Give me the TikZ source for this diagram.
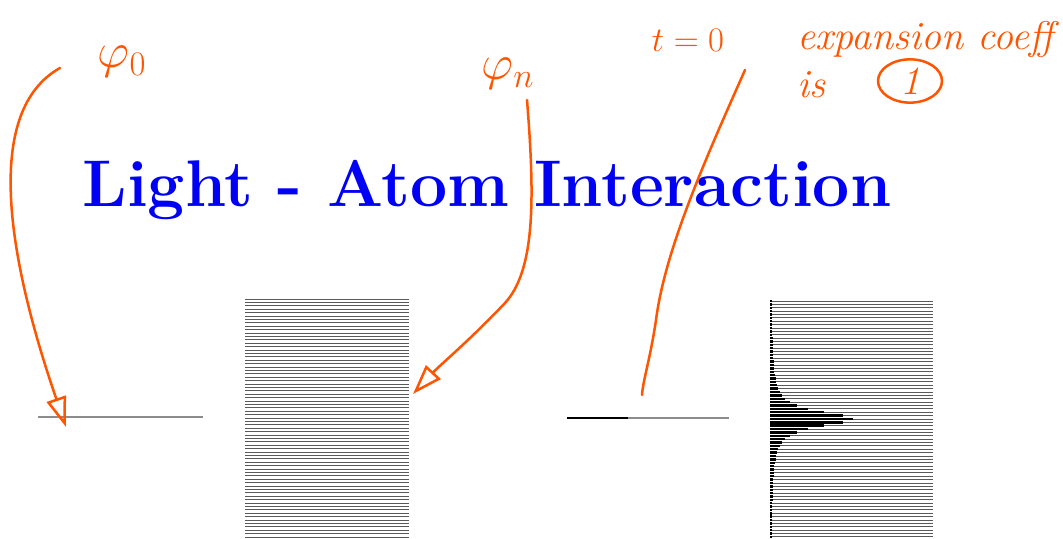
\documentclass[tikz,border=0pt]{standalone}
\usepackage{tikz}
\usetikzlibrary{arrows.meta,positioning,shapes.geometric}
\definecolor{ink}{RGB}{255,85,0}
\definecolor{titleblue}{RGB}{0,0,245}

\begin{document}
\begin{tikzpicture}[x=0.5pt, y=-0.5pt,
    level/.style={black!45, line width=0.65pt},
    band/.style={black!65, line width=0.45pt},
    weight/.style={black, line width=1.2pt},
    note/.style={text=ink, font=\fontsize{20}{22}\selectfont\itshape, inner sep=1pt},
    pen/.style={ink, line width=1.25pt, line cap=round},
    penarr/.style={pen, -{Triangle[open, length=15pt, width=10pt, line width=1.25pt]}}
]
\useasboundingbox (0,0) rectangle (1063,539);

\node[anchor=base, text=titleblue, font=\fontsize{33}{40}\selectfont\bfseries] (title)
    at (487,207) {Light - Atom Interaction};

% before: ground state and continuum
\draw[level] (38,417) -- (203,417);
\foreach \k in {0,...,70}
  \draw[band] (245,{299+3.4*\k}) -- (409,{299+3.4*\k});

% after: weights on the continuum
\draw[level] (567,418) -- (729,418);
\draw[weight] (567,418) -- (628,418);
\foreach \k in {0,...,70}{
  \draw[band] (770,{301+3.37*\k}) -- (933,{301+3.37*\k});
  \draw[weight] (770,{301+3.37*\k}) -- ++({1.5+81/(1+((\k-35)/2.73)^2)},0);
}

% annotations
\node[note, font=\fontsize{25}{28}\selectfont] (phi0) at (122,62) {$\varphi_0$};
\node[note, font=\fontsize{25}{28}\selectfont] (phin) at (508,74) {$\varphi_n$};
\node[note, font=\fontsize{19}{22}\selectfont] (tzero) at (688,40) {$t=0$};
\node[note, anchor=west] (coeff) at (795,40) {expansion coeff};
\node[note, anchor=west] (is) at (795,85) {is};
\node[note, draw=ink, ellipse, line width=1.25pt, minimum width=32pt,
      minimum height=19pt] (one) at (910,81) {1};

\coordinate (s0) at (60,68);
\coordinate (e0) at (66,427);
\coordinate (sn) at (527,100);
\coordinate (en) at (413,394);
\coordinate (st) at (745,70);
\coordinate (et) at (642,395);

\draw[penarr] (s0) .. controls (-15,110) and (5,250) .. (e0);
\draw[penarr] (sn) .. controls (535,200) and (535,270) .. (505,303)
                   .. controls (470,340) and (440,365) .. (en);
\draw[pen] (st) .. controls (705,160) and (665,250) .. (656,320)
               .. controls (650,360) and (643,380) .. (et);
\end{tikzpicture}
\end{document}
